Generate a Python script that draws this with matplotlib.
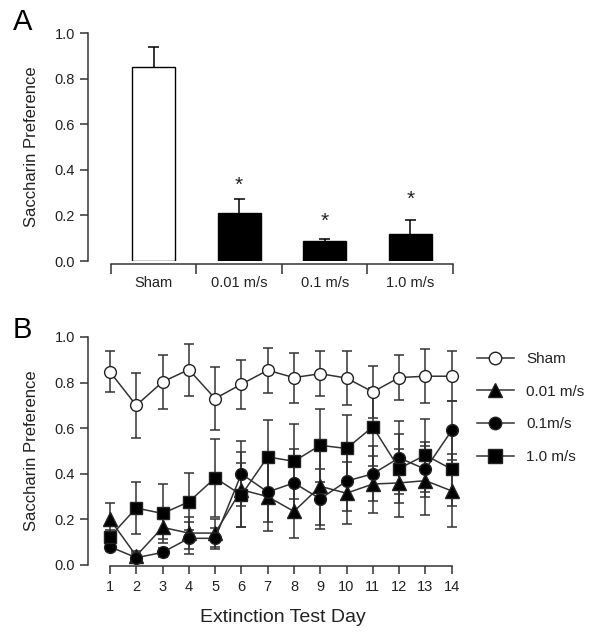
import matplotlib
matplotlib.use("Agg")
import matplotlib.pyplot as plt
from matplotlib.lines import Line2D

plt.rcParams['font.family'] = ['Liberation Sans', 'DejaVu Sans']

# panel A data
groups = ['Sham', '0.01 m/s', '0.1 m/s', '1.0 m/s']
pref_mean = [0.85, 0.21, 0.089, 0.118]
pref_sem = [0.088, 0.062, 0.009, 0.06]
star_y = [None, 0.33, 0.175, 0.27]

# panel B data
days = list(range(1, 15))
sham = [0.847, 0.70, 0.803, 0.857, 0.73, 0.793, 0.854, 0.822, 0.839, 0.82, 0.759, 0.822, 0.828, 0.828]
sham_sem = [0.09, 0.143, 0.12, 0.114, 0.14, 0.108, 0.098, 0.11, 0.098, 0.117, 0.113, 0.098, 0.118, 0.11]
v001 = [0.20, 0.04, 0.165, 0.14, 0.14, 0.33, 0.30, 0.235, 0.345, 0.315, 0.355, 0.36, 0.37, 0.325]
v001_sem = [0.07, 0.02, 0.05, 0.07, 0.06, 0.165, 0.15, 0.115, 0.17, 0.135, 0.125, 0.15, 0.15, 0.16]
v01 = [0.08, 0.032, 0.055, 0.117, 0.117, 0.40, 0.32, 0.36, 0.29, 0.368, 0.40, 0.47, 0.42, 0.59]
v01_sem = [0.02, 0.02, 0.02, 0.07, 0.045, 0.143, 0.13, 0.15, 0.13, 0.13, 0.12, 0.16, 0.12, 0.13]
v10 = [0.124, 0.25, 0.226, 0.277, 0.382, 0.307, 0.474, 0.455, 0.525, 0.511, 0.606, 0.423, 0.482, 0.42]
v10_sem = [0.03, 0.115, 0.13, 0.125, 0.17, 0.14, 0.16, 0.165, 0.16, 0.147, 0.17, 0.15, 0.16, 0.16]

W, H = 602, 636
fig = plt.figure(figsize=(W / 100, H / 100), dpi=100)
txt = '#222222'
lc = '#333333'


def style_axes(ax):
    for s in ['top', 'right']:
        ax.spines[s].set_visible(False)
    for s in ['left', 'bottom']:
        ax.spines[s].set_color(lc)
        ax.spines[s].set_linewidth(1.1)
    ax.set_ylim(0, 1.0)
    ax.spines['left'].set_bounds(0, 1.0)
    ax.set_yticks([0, 0.2, 0.4, 0.6, 0.8, 1.0])
    ax.set_yticklabels(['0.0', '0.2', '0.4', '0.6', '0.8', '1.0'])
    ax.tick_params(axis='both', direction='out', length=6, width=1.1, color=lc,
                   labelsize=10.5, labelcolor=txt)
    ax.set_ylabel('Saccharin Preference', fontsize=12, color=txt)
    ax.yaxis.set_label_coords(-0.135, 0.5)


# ---- panel A ----
axA = fig.add_axes([88 / W, 1 - 261 / H, 365 / W, 228 / H])
style_axes(axA)
xs = [0.5, 1.5, 2.5, 3.5]
colors = ['white', 'black', 'black', 'black']
axA.bar(xs, pref_mean, width=0.5, color=colors, edgecolor='black', linewidth=1.0, zorder=3)
# upper-only error bars
tops = [m + s for m, s in zip(pref_mean, pref_sem)]
axA.vlines(xs, pref_mean, tops, color='black', lw=1.1, zorder=2)
axA.hlines(tops, [x - 0.065 for x in xs], [x + 0.065 for x in xs], color='black', lw=1.1, zorder=2)
for x, s in zip(xs, star_y):
    if s is not None:
        axA.text(x, s, '*', ha='center', va='center', fontsize=15, color=txt)
axA.set_xlim(-23 / 86, 4)
axA.spines['bottom'].set_bounds(0, 4)
axA.spines['bottom'].set_position(('outward', 2))
axA.set_xticks([0, 1, 2, 3, 4])
axA.set_xticklabels([])
axA.set_xticks(xs, minor=True)
axA.set_xticklabels(groups, minor=True)
axA.tick_params(axis='x', which='major', length=7)
axA.tick_params(axis='x', which='minor', length=0, pad=9, labelsize=10.5, labelcolor=txt)
fig.text(13 / W, 1 - 22 / H, 'A', fontsize=21, va='center', ha='left', color='black')

# ---- panel B ----
axB = fig.add_axes([88 / W, 1 - 565 / H, 365 / W, 228 / H])
style_axes(axB)
axB.set_xlim(1 - 22 / 26.33, 14 + 0.05)
axB.spines['bottom'].set_bounds(1, 14)
axB.spines['bottom'].set_position(('outward', 1))
axB.set_xticks(days)
axB.tick_params(axis='x', pad=4)

series = [
    (v001, v001_sem, '^', 'black', 9.5, '0.01 m/s'),
    (v01, v01_sem, 'o', 'black', 8.5, '0.1m/s'),
    (v10, v10_sem, 's', 'black', 9, '1.0 m/s'),
    (sham, sham_sem, 'o', 'white', 8.5, 'Sham'),
]
for vals, sem, mk, fc, ms, lab in series:
    axB.errorbar(days, vals, yerr=sem, fmt='none', ecolor=lc, elinewidth=1.1,
                 capsize=3.5, capthick=1.1, zorder=2, clip_on=False)
    axB.plot(days, vals, color=lc, lw=1.1, marker=mk, markerfacecolor=fc,
             markeredgecolor='#222222', markersize=ms, markeredgewidth=1.0,
             zorder=3, clip_on=False)

fig.text(283 / W, 1 - 617 / H, 'Extinction Test Day', fontsize=14, ha='center',
         va='center', color=txt)
fig.text(13 / W, 1 - 330 / H, 'B', fontsize=21, va='center', ha='left', color='black')

handles = [
    Line2D([], [], color=lc, lw=1.1, marker='o', markerfacecolor='white',
           markeredgecolor='#222222', markersize=9),
    Line2D([], [], color=lc, lw=1.1, marker='^', markerfacecolor='black',
           markeredgecolor='#222222', markersize=10),
    Line2D([], [], color=lc, lw=1.1, marker='o', markerfacecolor='black',
           markeredgecolor='#222222', markersize=9),
    Line2D([], [], color=lc, lw=1.1, marker='s', markerfacecolor='black',
           markeredgecolor='#222222', markersize=9.5),
]
labels = ['Sham', '0.01 m/s', '0.1m/s', '1.0 m/s']
fig.legend(handles, labels, loc='upper left', bbox_to_anchor=(477 / W, 1 - 352 / H),
           frameon=False, fontsize=11, handlelength=2.4, handletextpad=0.8,
           labelspacing=1.22, borderpad=0, borderaxespad=0, labelcolor=txt)

fig.savefig('out.png', dpi=100)
